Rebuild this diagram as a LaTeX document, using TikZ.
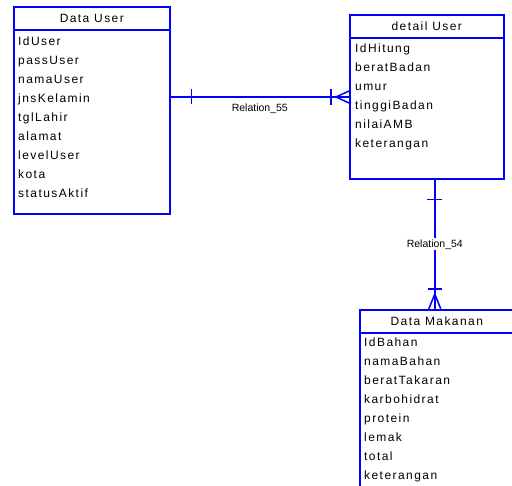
\documentclass[tikz,border=0pt]{standalone}
\usepackage{fontspec}
\setmainfont{Liberation Sans}
\newfontfamily\erfont{Liberation Sans}[LetterSpace=12]
\definecolor{erblue}{RGB}{0,0,255}
\begin{document}
\begin{tikzpicture}[x=1pt,y=-1pt,
    ent/.style={color=erblue,text=black,line width=1.6pt,draw,inner sep=0pt,anchor=north west},
    head/.style={ent,minimum height=23pt,font=\erfont\fontsize{12}{14}\selectfont},
    attr/.style={anchor=west,inner sep=0pt,text height=8.6pt,text depth=0pt,font=\erfont\fontsize{12}{14}\selectfont},
    rel/.style={draw=erblue,line width=1.5pt},
    rlabel/.style={inner sep=0pt,font=\fontsize{10.5}{12}\selectfont}]
  \useasboundingbox (0,0) rectangle (512,486);
  \clip (0,0) rectangle (512,486);
  % Data User
  \node[head,minimum width=156pt] (du-head) at (13,6) {Data User};
  \node[ent,minimum width=156pt,minimum height=184pt] (du) at (13,29) {};
  \foreach \attr [count=\i] in {IdUser,passUser,namaUser,jnsKelamin,tglLahir,alamat,levelUser,kota,statusAktif}
    \node[attr] (du-\i) at (18,22+19*\i) {\attr};
  % detail User
  \node[head,minimum width=154pt] (dt-head) at (349,14) {detail User};
  \node[ent,minimum width=154pt,minimum height=141pt] (dt) at (349,37) {};
  \foreach \attr [count=\i] in {IdHitung,beratBadan,umur,tinggiBadan,nilaiAMB,keterangan}
    \node[attr] (dt-\i) at (355,29+19*\i) {\attr};
  % Data Makanan
  \node[head,minimum width=154pt] (dm-head) at (359,309) {Data Makanan};
  \node[ent,minimum width=154pt,minimum height=200pt] (dm) at (359,332) {};
  \foreach \attr [count=\i] in {IdBahan,namaBahan,beratTakaran,karbohidrat,protein,lemak,total,keterangan}
    \node[attr] (dm-\i) at (364,323+19*\i) {\attr};
  % Relation_55
  \coordinate (r55a) at ([yshift=1pt]du.east |- du-4.west);
  \coordinate (r55b) at (dt.west |- r55a);
  \draw[rel] (r55a) -- (r55b) node[midway,below=6pt,rlabel] {Relation\_55};
  \draw[rel] ([xshift=21pt]r55a) ++(0,-7.5) -- ++(0,15);
  \draw[rel] ([xshift=-18pt]r55b) ++(0,-8) -- ++(0,16);
  \draw[rel] ([xshift=-13pt]r55b) -- ([yshift=-6pt]r55b) ([xshift=-13pt]r55b) -- ([yshift=6pt]r55b);
  % Relation_54
  \coordinate (r54a) at ([xshift=8pt]dt.south);
  \coordinate (r54b) at (r54a |- dm-head.north);
  \draw[rel] (r54a) -- (r54b) node[midway,rlabel,fill=white,inner sep=1pt] {Relation\_54};
  \draw[rel] ([yshift=-20pt]r54a) ++(-7.5,0) -- ++(15,0);
  \draw[rel] ([yshift=20pt]r54b) ++(-7,0) -- ++(14,0);
  \draw[rel] ([yshift=15pt]r54b) -- ([xshift=-6pt]r54b) ([yshift=15pt]r54b) -- ([xshift=6pt]r54b);
\end{tikzpicture}
\end{document}
